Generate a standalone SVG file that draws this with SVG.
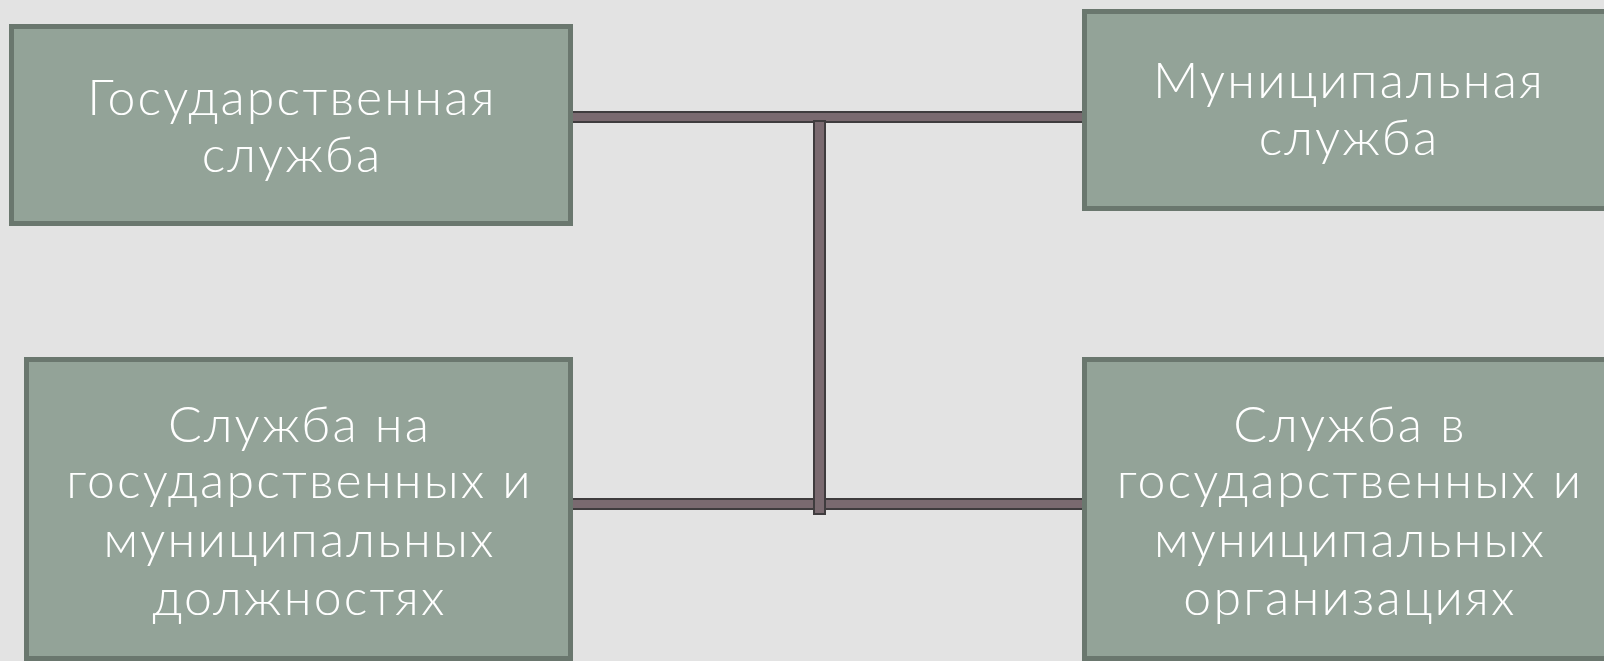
<svg xmlns="http://www.w3.org/2000/svg" width="1604" height="661" viewBox="0 0 1604 661">
<defs>
<style>
.bg{fill:#e3e3e3}
.box{fill:#93a398;stroke:#6a776e;stroke-width:5}
.lbl{font-family:"Lato","Liberation Sans",sans-serif;font-weight:300;font-size:50px;letter-spacing:2.2px;fill:#ffffff;text-anchor:middle}
.bar{fill:#7a6a70;stroke:#3f3c3e;stroke-width:2}
</style>
</defs>
<rect class="bg" x="0" y="0" width="1604" height="661"/>
<g id="connectors">
<rect class="bar" x="570" y="112" width="517" height="10"/>
<rect class="bar" x="569" y="499" width="518" height="10"/>
<rect class="bar" x="814" y="121" width="11" height="393"/>
</g>
<g id="node-gos">
<rect class="box" x="11.5" y="26.5" width="559" height="197"/>
<text class="lbl" x="292" y="115">Государственная</text>
<text class="lbl" x="292" y="172">служба</text>
</g>
<g id="node-mun">
<rect class="box" x="1084.5" y="11.5" width="560" height="197"/>
<text class="lbl" x="1349" y="98">Муниципальная</text>
<text class="lbl" x="1349" y="155">служба</text>
</g>
<g id="node-dolzh">
<rect class="box" x="26.5" y="359.5" width="544" height="299"/>
<text class="lbl" x="299.5" y="442">Служба на</text>
<text class="lbl" x="299.5" y="498">государственных и</text>
<text class="lbl" x="299.5" y="557">муниципальных</text>
<text class="lbl" x="299.5" y="615">должностях</text>
</g>
<g id="node-org">
<rect class="box" x="1084.5" y="359.5" width="560" height="299"/>
<text class="lbl" x="1350" y="442">Служба в</text>
<text class="lbl" x="1350" y="498">государственных и</text>
<text class="lbl" x="1350" y="557">муниципальных</text>
<text class="lbl" x="1350" y="615">организациях</text>
</g>
</svg>
